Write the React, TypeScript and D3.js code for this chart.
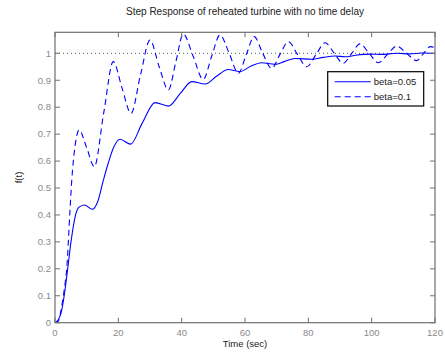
import React from "react";
import * as d3 from "d3";

const title = "Step Response of reheated turbine with no time delay";
const xLabel = "Time (sec)";
const yLabel = "f(t)";
const xTicks = [0, 20, 40, 60, 80, 100, 120];
const yTicks = [0, 0.1, 0.2, 0.3, 0.4, 0.5, 0.6, 0.7, 0.8, 0.9, 1];
const seriesNames = ["beta=0.05", "beta=0.1"];

const tBeta005 = [0, 1, 2, 2.9, 4.0, 5.05, 6.5, 7.5, 9.3, 11.8, 13.5, 15.3, 16.8, 18.6, 20.5, 23.9, 27.5, 31.6, 35.8, 39.5, 43.2, 47.4, 51, 54.7, 58.4, 61.8, 65.2, 69.5, 72.5, 75.8, 81.1, 84.7, 88.4, 91.6, 95, 99.5, 103, 108, 112, 116, 120];
const fBeta005 = [0, 0.01, 0.04, 0.10, 0.20, 0.30, 0.40, 0.428, 0.437, 0.421, 0.45, 0.53, 0.592, 0.653, 0.681, 0.663, 0.74, 0.817, 0.804, 0.85, 0.895, 0.886, 0.915, 0.940, 0.932, 0.952, 0.965, 0.959, 0.97, 0.981, 0.978, 0.985, 0.990, 0.987, 0.993, 0.997, 0.996, 1.0, 0.998, 1.001, 1.0];

const tBeta01 = [0, 1, 2.1, 3.0, 3.7, 4.7, 5.3, 6.3, 7.6, 10, 12.4, 15.4, 18.4, 21.2, 24.0, 27, 30, 32.9, 35.8, 38.2, 40.5, 43.6, 46.8, 49.5, 52.1, 55, 57.9, 60.4, 62.9, 65.6, 68.4, 71, 73.7, 76.6, 79.5, 82.4, 85.3, 88.2, 91, 93.7, 96.3, 99.2, 102.1, 105, 107.9, 111, 114.2, 116.4, 118.6, 120];
const fBeta01 = [0, 0.005, 0.06, 0.13, 0.20, 0.41, 0.53, 0.653, 0.715, 0.65, 0.579, 0.78, 0.969, 0.87, 0.777, 0.92, 1.049, 0.95, 0.864, 0.97, 1.072, 0.99, 0.903, 0.99, 1.068, 1.0, 0.926, 0.995, 1.062, 1.0, 0.944, 0.995, 1.043, 0.995, 0.950, 0.995, 1.039, 1.0, 0.963, 1.0, 1.035, 1.0, 0.965, 0.996, 1.027, 1.0, 0.973, 1.0, 1.025, 1.02];

const W = 445;
const H = 354;
const margin = { left: 55, right: 10, top: 32.3, bottom: 31.3 };
const font = "Liberation Sans, Arial, Helvetica, sans-serif";

export default function App() {
  const x = d3.scaleLinear().domain([0, 120]).range([margin.left, W - margin.right]);
  const y = d3.scaleLinear().domain([0, 1.078]).range([H - margin.bottom, margin.top]);
  const line = d3
    .line<[number, number]>()
    .x((d) => x(d[0]))
    .y((d) => y(d[1]))
    .curve(d3.curveMonotoneX);
  const s1 = tBeta005.map((t, i) => [t, fBeta005[i]] as [number, number]);
  const s2 = tBeta01.map((t, i) => [t, fBeta01[i]] as [number, number]);
  const x0 = x(0), x1 = x(120), y0 = y(0), y1 = y(1.078);
  const axisColor = "#707070";
  const labelColor = "#8a8a8a";
  const tl = 5;
  const lx = 327.7, ly = 71.7, lw = 96, lh = 34.3;
  return (
    <svg width={W} height={H} style={{ position: "absolute", left: 0, top: 0 }} fontFamily={font}>
      <rect x={0} y={0} width={W} height={H} fill="#fff" />
      <defs>
        <clipPath id="plotclip">
          <rect x={x0} y={y1} width={x1 - x0} height={y0 - y1} />
        </clipPath>
      </defs>
      <text x={(x0 + x1) / 2} y={15} textAnchor="middle" fontSize={10} fill="#222">{title}</text>
      <line x1={x0} x2={x1} y1={y(1)} y2={y(1)} stroke="#555" strokeWidth={1} strokeDasharray="1,3" />
      <g clipPath="url(#plotclip)" fill="none" stroke="#0000ff" strokeWidth={1.1}>
        <path d={line(s1) || ""} />
        <path d={line(s2) || ""} strokeDasharray="6,4" />
      </g>
      <rect x={x0} y={y1} width={x1 - x0} height={y0 - y1} fill="none" stroke={axisColor} strokeWidth={1.2} />
      {xTicks.map((t) => (
        <g key={"x" + t}>
          <line x1={x(t)} x2={x(t)} y1={y0} y2={y0 - tl} stroke={axisColor} />
          <line x1={x(t)} x2={x(t)} y1={y1} y2={y1 + tl} stroke={axisColor} />
          <text x={x(t)} y={y0 + 13} textAnchor="middle" fontSize={9.5} fill={labelColor}>{t}</text>
        </g>
      ))}
      {yTicks.map((v) => (
        <g key={"y" + v}>
          <line x1={x0} x2={x0 + tl} y1={y(v)} y2={y(v)} stroke={axisColor} />
          <line x1={x1} x2={x1 - tl} y1={y(v)} y2={y(v)} stroke={axisColor} />
          <text x={x0 - 4} y={y(v) + 3.3} textAnchor="end" fontSize={9.5} fill={labelColor}>{v}</text>
        </g>
      ))}
      <text x={(x0 + x1) / 2} y={347} textAnchor="middle" fontSize={9.5} fill="#222">{xLabel}</text>
      <text transform={`translate(22,${(y0 + y1) / 2}) rotate(-90)`} textAnchor="middle" fontSize={9.5} fill="#222">{yLabel}</text>
      <g>
        <rect x={lx} y={ly} width={lw} height={lh} fill="#fff" stroke="#000" strokeWidth={1.2} />
        <line x1={lx + 7} x2={lx + 43} y1={ly + 10} y2={ly + 10} stroke="#0000ff" strokeWidth={1.1} />
        <line x1={lx + 7} x2={lx + 43} y1={ly + 25} y2={ly + 25} stroke="#0000ff" strokeWidth={1.1} strokeDasharray="6,4" />
        <text x={lx + 46} y={ly + 13.3} fontSize={9.5} fill="#222">{seriesNames[0]}</text>
        <text x={lx + 46} y={ly + 28.3} fontSize={9.5} fill="#222">{seriesNames[1]}</text>
      </g>
    </svg>
  );
}
